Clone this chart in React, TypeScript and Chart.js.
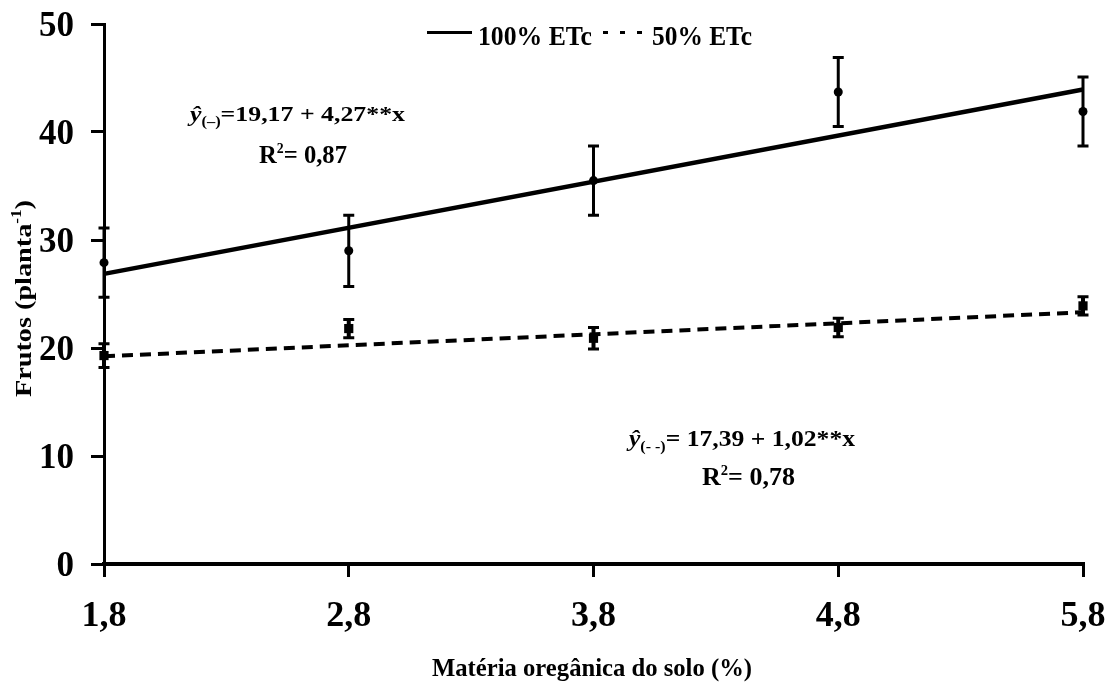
import React, { useEffect, useRef } from 'react';
import { Chart, registerables } from 'chart.js';

Chart.register(...registerables);

const FONT = '"Liberation Serif", "Times New Roman", Times, serif';

// ---- data ----
const xValues = [1.8, 2.8, 3.8, 4.8, 5.8];
const obs100 = [27.9, 29.0, 35.5, 43.7, 41.9];
const err100 = [3.2, 3.3, 3.2, 3.2, 3.2];
const obs50 = [19.3, 21.8, 20.9, 21.9, 23.9];
const err50 = [1.1, 0.85, 1.0, 0.85, 0.85];
const fitX = [1.8, 5.8];
const fit100 = [26.86, 43.94];
const fit50 = [19.23, 23.31];
const xTicks = [1.8, 2.8, 3.8, 4.8, 5.8];
const yTicks = [0, 10, 20, 30, 40, 50];
const seriesLabels = ['100% ETc', '50% ETc'];
const xTitle = 'Matéria oregânica do solo (%)';
const yTitleMain = 'Frutos (planta';
const yTitleSup = '-1';
const eq100 = '=19,17 + 4,27**x';
const r2_100 = '= 0,87';
const eq50 = '= 17,39 + 1,02**x';
const r2_50 = '= 0,78';

type Seg = { t: string; size: number; dy?: number; italic?: boolean; weight?: string };

function drawSegs(ctx: CanvasRenderingContext2D, segs: Seg[], x0: number, x1: number, baseline: number) {
  const fontOf = (s: Seg) => `${s.italic ? 'italic ' : ''}${s.weight ?? 'bold'} ${s.size}px ${FONT}`;
  const widths = segs.map((s) => {
    ctx.font = fontOf(s);
    return ctx.measureText(s.t).width;
  });
  const natural = widths.reduce((a, b) => a + b, 0);
  const sx = (x1 - x0) / natural;
  ctx.save();
  ctx.translate(x0, baseline);
  ctx.scale(sx, 1);
  ctx.fillStyle = '#000';
  ctx.textAlign = 'left';
  ctx.textBaseline = 'alphabetic';
  let x = 0;
  segs.forEach((s, i) => {
    ctx.font = fontOf(s);
    ctx.fillText(s.t, x, s.dy ?? 0);
    x += widths[i];
  });
  ctx.restore();
}

const errorBars = {
  id: 'errorBars',
  afterDatasetsDraw(chart: any) {
    const ctx: CanvasRenderingContext2D = chart.ctx;
    const yScale = chart.scales.y;
    chart.data.datasets.forEach((ds: any, di: number) => {
      if (!ds.errors) return;
      const meta = chart.getDatasetMeta(di);
      meta.data.forEach((pt: any, i: number) => {
        const v = ds.data[i].y;
        const e = ds.errors[i];
        const top = yScale.getPixelForValue(v + e);
        const bot = yScale.getPixelForValue(v - e);
        ctx.save();
        ctx.strokeStyle = '#000';
        ctx.lineWidth = ds.errWidth;
        ctx.beginPath();
        ctx.moveTo(pt.x, top);
        ctx.lineTo(pt.x, bot);
        ctx.stroke();
        ctx.lineWidth = 3;
        ctx.beginPath();
        ctx.moveTo(pt.x - 5.5, top);
        ctx.lineTo(pt.x + 5.5, top);
        ctx.moveTo(pt.x - 5.5, bot);
        ctx.lineTo(pt.x + 5.5, bot);
        ctx.stroke();
        ctx.restore();
      });
    });
  },
};

const annotations = {
  id: 'annotations',
  afterDraw(chart: any) {
    const ctx: CanvasRenderingContext2D = chart.ctx;
    // legend
    ctx.save();
    ctx.strokeStyle = '#000';
    ctx.lineWidth = 3;
    ctx.beginPath();
    ctx.moveTo(427, 32.5);
    ctx.lineTo(472, 32.5);
    ctx.stroke();
    ctx.setLineDash([5, 12]);
    ctx.beginPath();
    ctx.moveTo(603, 32.5);
    ctx.lineTo(643, 32.5);
    ctx.stroke();
    ctx.restore();
    drawSegs(ctx, [{ t: seriesLabels[0], size: 27 }], 478, 592, 45);
    drawSegs(ctx, [{ t: seriesLabels[1], size: 27 }], 652, 752, 45);

    // equation 100%
    drawSegs(
      ctx,
      [
        { t: 'ŷ', size: 22, italic: true },
        { t: '(–)', size: 14, dy: 5 },
        { t: eq100, size: 22 },
      ],
      190,
      405,
      121
    );
    drawSegs(
      ctx,
      [
        { t: 'R', size: 25 },
        { t: '2', size: 14, dy: -10 },
        { t: r2_100, size: 25 },
      ],
      259,
      347,
      163
    );
    // equation 50%
    drawSegs(
      ctx,
      [
        { t: 'ŷ', size: 24, italic: true },
        { t: '(- -)', size: 15, dy: 5 },
        { t: eq50, size: 24 },
      ],
      629,
      855,
      446
    );
    drawSegs(
      ctx,
      [
        { t: 'R', size: 25 },
        { t: '2', size: 14, dy: -10 },
        { t: r2_50, size: 25 },
      ],
      702,
      795,
      485
    );

    // axis titles
    drawSegs(ctx, [{ t: xTitle, size: 26 }], 432, 752, 676);
    ctx.save();
    ctx.translate(31, 397);
    ctx.rotate(-Math.PI / 2);
    drawSegs(
      ctx,
      [
        { t: yTitleMain, size: 23 },
        { t: yTitleSup, size: 14, dy: -10 },
        { t: ')', size: 23 },
      ],
      0,
      197,
      0
    );
    ctx.restore();
  },
};

export default function App() {
  const ref = useRef<HTMLCanvasElement | null>(null);

  useEffect(() => {
    document.body.style.margin = '0';
    const canvas = ref.current;
    if (!canvas) return;
    const tickFont = (size: number) => ({ family: FONT, size, weight: 'bold' as const });
    const chart = new Chart(canvas, {
      type: 'scatter',
      data: {
        datasets: [
          {
            label: seriesLabels[0],
            data: fitX.map((x, i) => ({ x, y: fit100[i] })),
            showLine: true,
            borderColor: '#000',
            borderWidth: 4.5,
            pointRadius: 0,
            clip: false,
          } as any,
          {
            label: seriesLabels[1],
            data: fitX.map((x, i) => ({ x, y: fit50[i] })),
            showLine: true,
            borderColor: '#000',
            borderWidth: 4,
            borderDash: [11, 7],
            pointRadius: 0,
            clip: false,
          } as any,
          {
            label: seriesLabels[0] + ' (observado)',
            data: xValues.map((x, i) => ({ x, y: obs100[i] })),
            showLine: false,
            pointStyle: 'circle',
            pointRadius: 4.5,
            backgroundColor: '#000',
            borderColor: '#000',
            borderWidth: 0,
            errors: err100,
            errWidth: 3,
            clip: false,
          } as any,
          {
            label: seriesLabels[1] + ' (observado)',
            data: xValues.map((x, i) => ({ x, y: obs50[i] })),
            showLine: false,
            pointStyle: 'rect',
            pointRadius: 6.5,
            backgroundColor: '#000',
            borderColor: '#000',
            borderWidth: 0,
            errors: err50,
            errWidth: 4,
            clip: false,
          } as any,
        ],
      },
      options: {
        responsive: false,
        animation: false,
        layout: { padding: { left: 0, right: 25, top: 24, bottom: 0 } },
        plugins: {
          legend: { display: false },
          tooltip: { enabled: false },
        },
        scales: {
          x: {
            type: 'linear',
            min: 1.8,
            max: 5.8,
            afterBuildTicks: (s: any) => {
              s.ticks = xTicks.map((v) => ({ value: v }));
            },
            afterFit: (s: any) => {
              s.height = 120;
              s.paddingLeft = 0;
              s.paddingRight = 0;
            },
            grid: {
              drawOnChartArea: false,
              drawTicks: true,
              tickLength: 13,
              tickWidth: 3,
              lineWidth: 3,
              tickColor: '#000',
              color: '#000',
            },
            border: { display: true, color: '#000', width: 4 },
            ticks: {
              color: '#000',
              font: tickFont(36),
              padding: 18,
              maxRotation: 0,
              autoSkip: false,
              callback: (v: any) => Number(v).toFixed(1).replace('.', ','),
            },
          },
          y: {
            type: 'linear',
            min: 0,
            max: 50,
            afterBuildTicks: (s: any) => {
              s.ticks = yTicks.map((v) => ({ value: v }));
            },
            afterFit: (s: any) => {
              s.width = 104;
              s.paddingTop = 0;
              s.paddingBottom = 0;
            },
            grid: {
              drawOnChartArea: false,
              drawTicks: true,
              tickLength: 13,
              tickWidth: 3,
              lineWidth: 3,
              tickColor: '#000',
              color: '#000',
            },
            border: { display: true, color: '#000', width: 3 },
            ticks: {
              color: '#000',
              font: tickFont(35),
              padding: 17,
              labelOffset: 3,
              autoSkip: false,
              callback: (v: any) => String(v),
            },
          },
        },
      },
      plugins: [errorBars, annotations],
    });
    return () => chart.destroy();
  }, []);

  return (
    <div style={{ width: 1108, height: 684, background: '#fff' }}>
      <canvas ref={ref} width={1108} height={684} style={{ display: 'block' }} />
    </div>
  );
}
